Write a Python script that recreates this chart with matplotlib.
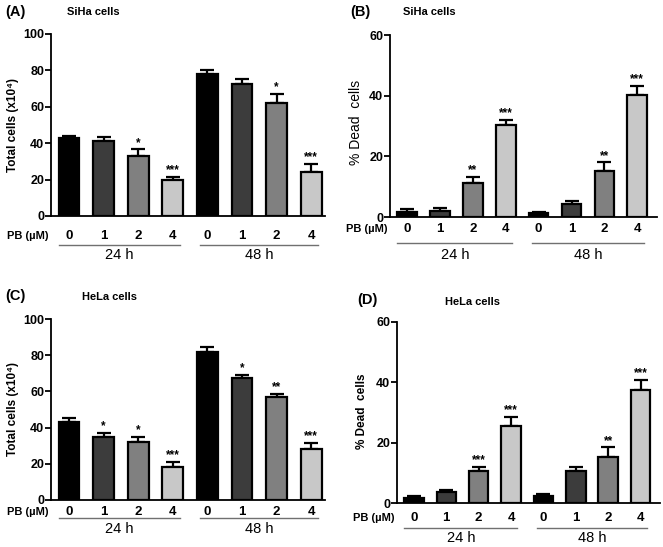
import matplotlib
matplotlib.use("Agg")
import matplotlib.pyplot as plt
import matplotlib.transforms as mtransforms

plt.rcParams['font.family'] = ['Liberation Sans', 'DejaVu Sans']

doses = ["0", "1", "2", "4", "0", "1", "2", "4"]
groups = ["24 h", "48 h"]
bar_colors = ["#000000", "#3c3c3c", "#808080", "#c8c8c8"] * 2

# (A) SiHa total cells
siha_total = [42.7, 41.3, 33.2, 19.8, 78.2, 72.5, 62.2, 24.2]
siha_total_err = [1.5, 2.2, 3.5, 1.9, 2.2, 2.7, 5.0, 4.4]
siha_total_sig = ["", "", "*", "***", "", "", "*", "***"]

# (B) SiHa dead cells
siha_dead = [1.6, 2.0, 11.2, 30.2, 1.2, 4.3, 15.3, 40.2]
siha_dead_err = [1.1, 1.0, 2.1, 1.8, 0.6, 1.1, 2.7, 3.0]
siha_dead_sig = ["", "", "**", "***", "", "", "**", "***"]

# (C) HeLa total cells
hela_total = [42.9, 35.0, 31.9, 18.4, 81.6, 67.6, 57.1, 28.0]
hela_total_err = [2.2, 2.2, 3.1, 2.8, 2.7, 1.6, 1.5, 3.5]
hela_total_sig = ["", "*", "*", "***", "", "*", "**", "***"]

# (D) HeLa dead cells
hela_dead = [1.55, 3.5, 10.5, 25.6, 2.4, 10.5, 15.3, 37.5]
hela_dead_err = [0.65, 0.7, 1.5, 3.0, 0.7, 1.5, 3.1, 3.3]
hela_dead_sig = ["", "", "***", "***", "", "", "**", "***"]

W, H = 663, 547
fig = plt.figure(figsize=(W / 100, H / 100), dpi=100)


def px_axes(x0, y0, x1, y1):
    # pixel box (top-left origin) -> figure fraction
    return fig.add_axes([x0 / W, 1 - y1 / H, (x1 - x0) / W, (y1 - y0) / H])


def draw(ax, vals, errs, sig, ymax, xlim, tick_off, line_off, grp_off):
    x = list(range(len(vals)))
    ax.bar(x, vals, width=0.6, color=bar_colors, edgecolor="black", linewidth=1.6, zorder=3)
    ax.errorbar(x, vals, yerr=[[0] * len(errs), errs], fmt="none", ecolor="black",
                elinewidth=1.6, capsize=5, capthick=1.6, zorder=2)
    for i in x:
        if sig[i]:
            ax.text(i, vals[i] + errs[i] + ymax * 0.003, sig[i], ha="center", va="bottom",
                    fontsize=8.5, fontweight="bold")
    ax.set_ylim(0, ymax)
    ax.set_xlim(*xlim)
    ax.set_yticks(range(0, ymax + 1, 20))
    for s in ["top", "right"]:
        ax.spines[s].set_visible(False)
    ax.spines["left"].set_linewidth(1.3)
    ax.spines["bottom"].set_linewidth(1.3)
    ax.tick_params(axis="y", width=1.3, length=4, labelsize=9, pad=1)
    for lab in ax.get_yticklabels():
        lab.set_fontweight("bold")
    ax.set_xticks([])

    hpx = ax.get_position().height * H
    trans = mtransforms.blended_transform_factory(ax.transData, ax.transAxes)
    for i, d in enumerate(doses):
        ax.text(i, -tick_off / hpx, d, transform=trans, ha="center", va="center",
                fontsize=9.5, fontweight="bold")
    ax.text(-0.008, -tick_off / hpx, "PB (µM)", transform=ax.transAxes, ha="right",
            va="center", fontsize=8, fontweight="bold")
    for g, (a, b) in enumerate([(-0.3, 3.2), (3.8, 7.2)]):
        ax.plot([a, b], [-line_off / hpx] * 2, transform=trans, color="#707070",
                linewidth=1.0, clip_on=False)
        ax.text((a + b) / 2, -grp_off / hpx, groups[g], transform=trans, ha="center",
                va="center", fontsize=10.5)


axA = px_axes(51, 34, 325, 216)
draw(axA, siha_total, siha_total_err, siha_total_sig, 100, (-0.52, 7.4), 20, 29, 39)
axB = px_axes(390, 35, 657, 217)
draw(axB, siha_dead, siha_dead_err, siha_dead_sig, 60, (-0.52, 7.6), 12, 26, 38)
axC = px_axes(51, 319, 325, 500)
draw(axC, hela_total, hela_total_err, hela_total_sig, 100, (-0.52, 7.4), 12, 18, 29)
axD = px_axes(397, 322, 660, 503)
draw(axD, hela_dead, hela_dead_err, hela_dead_sig, 60, (-0.52, 7.6), 15, 25, 35)


def ftext(px, py, s, **kw):
    fig.text(px / W, 1 - py / H, s, **kw)


ftext(5, 12, "(A)", fontsize=10.5, fontweight="bold", va="center")
ftext(67, 12, "SiHa cells", fontsize=8, fontweight="bold", va="center")
ftext(350, 12, "(B)", fontsize=10.5, fontweight="bold", va="center")
ftext(403, 12, "SiHa cells", fontsize=8, fontweight="bold", va="center")
ftext(5, 296, "(C)", fontsize=10.5, fontweight="bold", va="center")
ftext(82, 297, "HeLa cells", fontsize=8, fontweight="bold", va="center")
ftext(357, 300, "(D)", fontsize=10.5, fontweight="bold", va="center")
ftext(445, 302, "HeLa cells", fontsize=8, fontweight="bold", va="center")

ftext(13, 125, "Total cells (x10⁴)", fontsize=8.5, fontweight="bold", rotation=90,
      ha="center", va="center")
ftext(356, 122, "% Dead  cells", fontsize=10, rotation=90, ha="center", va="center")
ftext(13, 409, "Total cells (x10⁴)", fontsize=8.5, fontweight="bold", rotation=90,
      ha="center", va="center")
ftext(362, 411, "% Dead  cells", fontsize=8.5, fontweight="bold", rotation=90,
      ha="center", va="center")

fig.savefig("out.png", dpi=100)
